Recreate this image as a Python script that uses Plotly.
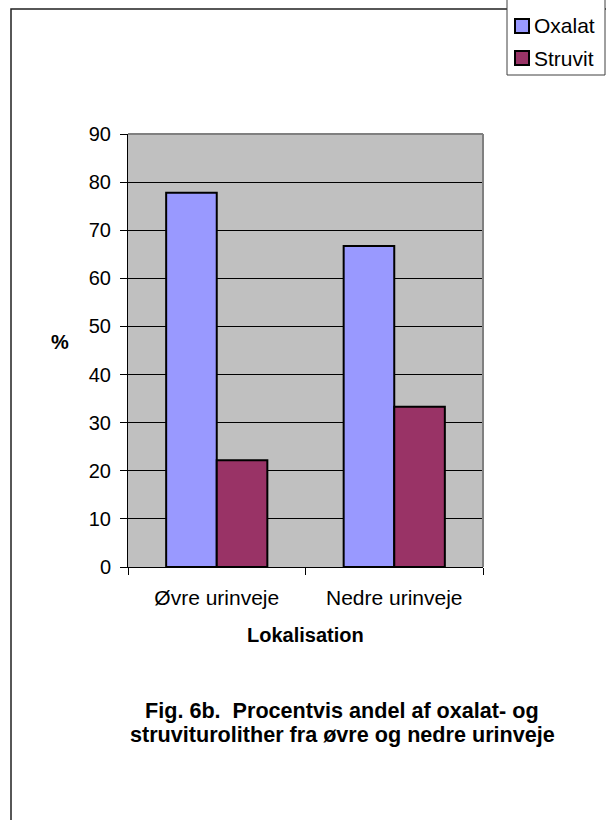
import plotly.graph_objects as go

# Data: share (%) of oxalate and struvite uroliths by location
categories = ["Øvre urinveje", "Nedre urinveje"]
series_names = ["Oxalat", "Struvit"]
oxalat = [77.8, 66.7]
struvit = [22.2, 33.3]
y_ticks = [0, 10, 20, 30, 40, 50, 60, 70, 80, 90]
colors = ["#9999FF", "#993366"]

W, H = 606, 820
# plot area in pixels
L, R, T, B = 128, 483, 134, 567


def px_x(x):
    return (x - L) / (R - L)


def px_y(y):
    return (B - y) / (B - T)


FONT = "Liberation Sans, Arial, sans-serif"

fig = go.Figure()
for name, vals, col in zip(series_names, [oxalat, struvit], colors):
    fig.add_trace(go.Bar(
        x=categories, y=vals, name=name,
        marker=dict(color=col, line=dict(color="black", width=2)),
    ))

shapes = [
    # outer frame
    dict(type="rect", xref="paper", yref="paper",
         x0=px_x(11), x1=px_x(640), y0=px_y(9), y1=px_y(840),
         line=dict(color="#202020", width=1.5), fillcolor="rgba(0,0,0,0)",
         layer="below"),
    # plot-area border, top and right
    dict(type="line", xref="paper", yref="paper",
         x0=0, x1=1, y0=1, y1=1, line=dict(color="#808080", width=2)),
    dict(type="line", xref="paper", yref="paper",
         x0=1, x1=1, y0=0, y1=1, line=dict(color="#808080", width=2)),
    # legend box
    dict(type="rect", xref="paper", yref="paper",
         x0=px_x(507), x1=px_x(605), y0=px_y(-5), y1=px_y(75),
         line=dict(color="#404040", width=1), fillcolor="white"),
]

annotations = [
    dict(text="<b>%</b>", xref="paper", yref="paper",
         x=px_x(60), y=px_y(342), xanchor="center", yanchor="middle",
         showarrow=False, font=dict(family=FONT, size=20)),
    dict(text="<b>Lokalisation</b>", xref="paper", yref="paper",
         x=px_x(305), y=px_y(635), xanchor="center", yanchor="middle",
         showarrow=False, font=dict(family=FONT, size=20)),
    dict(text="<b>Fig. 6b.  Procentvis andel af oxalat- og</b>",
         xref="paper", yref="paper",
         x=px_x(342), y=px_y(710), xanchor="center", yanchor="middle",
         showarrow=False, font=dict(family=FONT, size=21.6)),
    dict(text="<b>struviturolither fra øvre og nedre urinveje</b>",
         xref="paper", yref="paper",
         x=px_x(342), y=px_y(734), xanchor="center", yanchor="middle",
         showarrow=False, font=dict(family=FONT, size=21.6)),
]

# legend entries: swatch + label
for i, (name, col) in enumerate(zip(series_names, colors)):
    yc = 26 + 32 * i
    shapes.append(dict(type="rect", xref="paper", yref="paper",
                       x0=px_x(515), x1=px_x(529),
                       y0=px_y(yc - 7), y1=px_y(yc + 7),
                       line=dict(color="black", width=2), fillcolor=col))
    annotations.append(dict(text=name, xref="paper", yref="paper",
                            x=px_x(532), y=px_y(yc), xanchor="left",
                            yanchor="middle", showarrow=False,
                            font=dict(family=FONT, size=21)))

fig.update_layout(
    width=W, height=H,
    margin=dict(l=L, r=W - R, t=T, b=H - B, pad=0, autoexpand=False),
    paper_bgcolor="white",
    plot_bgcolor="#C0C0C0",
    font=dict(family=FONT, size=20, color="black"),
    barmode="group",
    bargap=0.43,
    bargroupgap=0,
    showlegend=False,
    xaxis=dict(
        type="category",
        showline=True, linecolor="black", linewidth=1,
        ticks="outside", tickson="boundaries", ticklen=7, tickcolor="black",
        showgrid=False,
        tickfont=dict(family=FONT, size=21, color="black"),
        ticklabelstandoff=12,
    ),
    yaxis=dict(
        range=[0, 90], tickvals=y_ticks,
        showline=True, linecolor="black", linewidth=1,
        ticks="outside", ticklen=7, tickcolor="black",
        showgrid=True, gridcolor="black", gridwidth=1,
        zeroline=False,
        tickfont=dict(family=FONT, size=20, color="black"),
        ticklabelstandoff=5,
    ),
    shapes=shapes,
    annotations=annotations,
)

fig.write_html("out.html")
